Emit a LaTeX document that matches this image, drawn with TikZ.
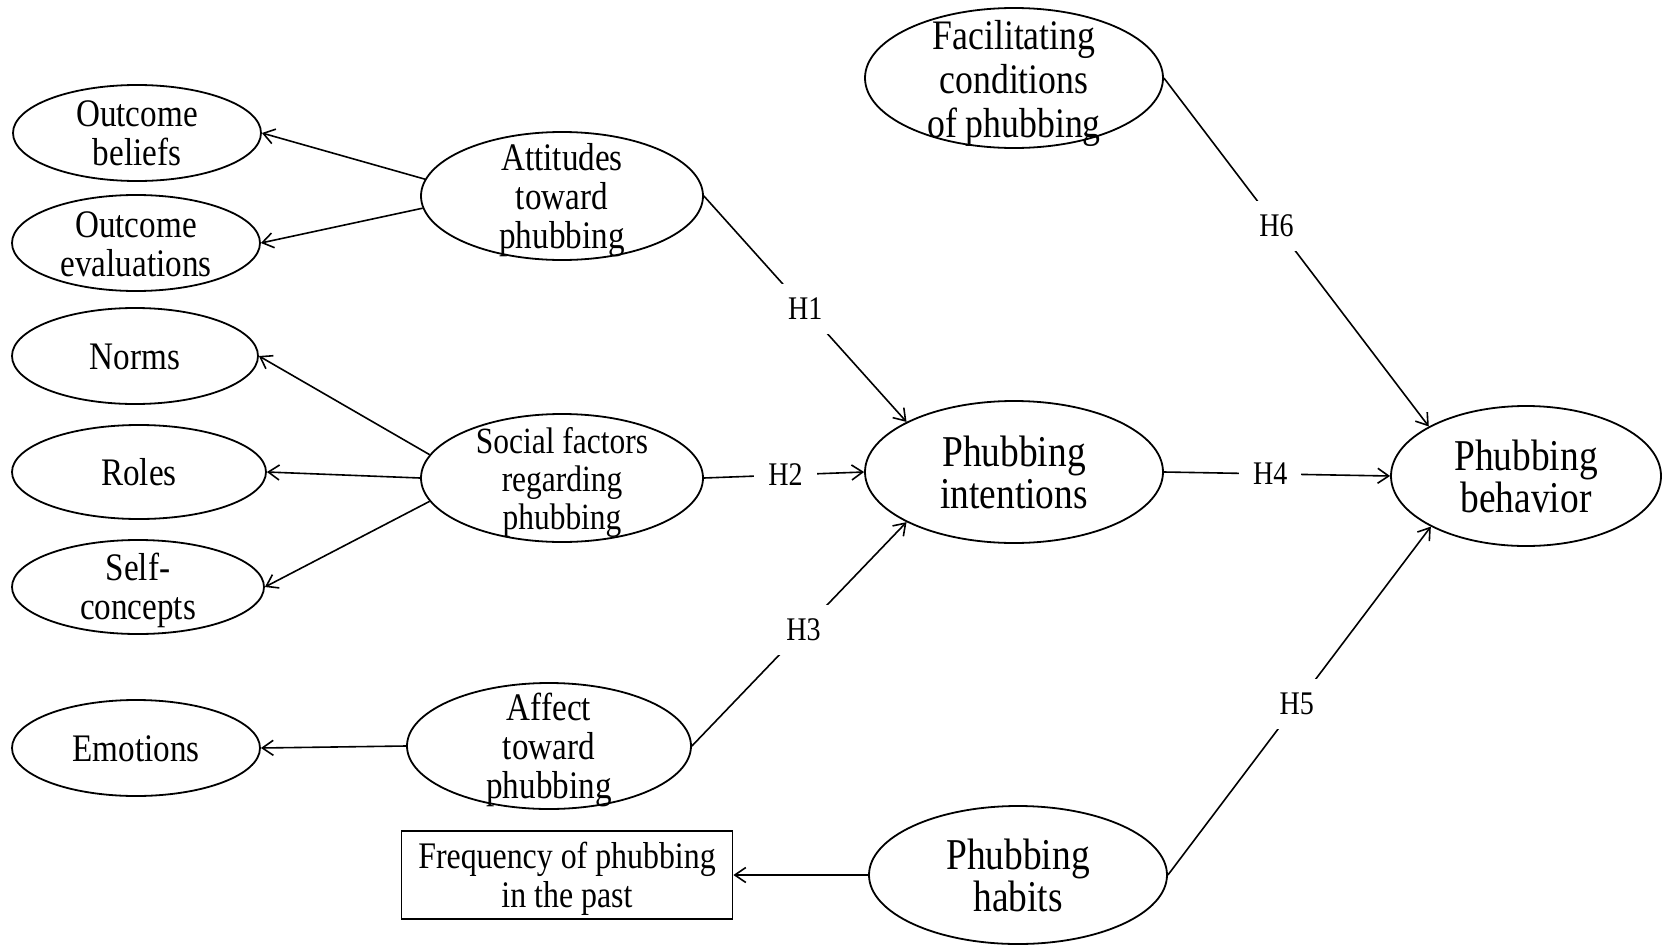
\documentclass[tikz,border=0pt]{standalone}
\usepackage{fontspec}
\setmainfont{Liberation Serif}[FakeStretch=0.85]
\usetikzlibrary{shapes.geometric,arrows.meta}

\begin{document}
\begin{tikzpicture}[x=1pt,y=-1pt,
  oval/.style args={#1/#2}{ellipse, draw, line width=1.8pt,
    minimum width=#1, minimum height=#2, inner sep=0pt},
  txt/.style={align=center, inner sep=0pt, font=\fontsize{39}{39}\selectfont},
  mid/.style={align=center, inner sep=0pt, font=\fontsize{37}{38}\selectfont},
  big/.style={align=center, inner sep=0pt, font=\fontsize{44}{42}\selectfont},
  fac/.style={align=center, inner sep=0pt, font=\fontsize{42}{44}\selectfont},
  box/.style={draw, line width=1.8pt, minimum width=331pt, minimum height=88pt,
    inner sep=0pt, align=center},
  boxtxt/.style={align=center, inner sep=0pt, font=\fontsize{37.5}{39}\selectfont},
  hyp/.style={fill=white, inner xsep=14pt, inner ysep=14pt,
    font=\fontsize{33}{33}\selectfont},
  link/.style={line width=1.6pt, -{Straight Barb[length=11pt,width=15pt]}}
]
\useasboundingbox (0,0) rectangle (1663,945);

% indicator ellipses
\node[oval=248pt/96pt] (ob) at (137,133) {};
\node[txt] (obt) at (ob) {Outcome\\beliefs};
\node[oval=248pt/96pt] (oe) at (136,243) {};
\node[txt, yshift=-1.5pt] (oet) at (oe) {Outcome\\evaluations};
\node[oval=246pt/96pt] (nor) at (135,356) {};
\node[txt, yshift=-1pt] (nort) at (nor) {Norms};
\node[oval=254pt/94pt] (rol) at (139,472) {};
\node[txt] (rolt) at (rol) {Roles};
\node[oval=252pt/94pt] (slf) at (138,587) {};
\node[txt, yshift=-3.5pt] (slft) at (slf) {Self-\\concepts};
\node[oval=248pt/96pt] (emo) at (136,748) {};
\node[txt, yshift=-1pt] (emot) at (emo) {Emotions};

% determinants
\node[oval=282pt/128pt] (att) at (562,196) {};
\node[txt, yshift=-4pt] (attt) at (att) {Attitudes\\toward\\phubbing};
\node[oval=282pt/128pt] (soc) at (562,478) {};
\node[mid, yshift=-4pt] (soct) at (soc) {Social factors\\regarding\\phubbing};
\node[oval=284pt/126pt] (aff) at (549,746) {};
\node[txt, yshift=-4pt] (afft) at (aff) {Affect\\toward\\phubbing};
\node[box] (frq) at (567,875) {};
\node[boxtxt, yshift=-4pt] (frqt) at (frq) {Frequency of phubbing\\in the past};

% central constructs
\node[oval=298pt/140pt] (fc) at (1014,78) {};
\node[fac, yshift=-5pt] (fct) at (fc) {Facilitating\\conditions\\of phubbing};
\node[oval=298pt/142pt] (int) at (1014,472) {};
\node[big] (intt) at (int) {Phubbing\\intentions};
\node[oval=298pt/138pt] (hab) at (1018,875) {};
\node[big] (habt) at (hab) {Phubbing\\habits};
\node[oval=270pt/140pt] (beh) at (1526,476) {};
\node[big] (beht) at (beh) {Phubbing\\behavior};

% measurement arrows
\draw[link] (att.173) -- (ob.east);
\draw[link] (att.185) -- (oe.east);
\draw[link] (soc.170) -- (nor.east);
\draw[link] (soc.west) -- (rol.east);
\draw[link] (soc.190) -- (slf.east);
\draw[link] (aff.west) -- (emo.east);
\draw[link] (hab.west) -- (frq.east);

% hypothesised paths
\draw[link] (att.east) -- node[hyp] (h1) {H1} (int.155);
\draw[link] (soc.east) -- node[hyp, pos=0.51] (h2) {H2} (int.west);
\draw[link] (aff.east) -- node[hyp, pos=0.52] (h3) {H3} (int.205);
\draw[link] (int.east) -- node[hyp, pos=0.47] (h4) {H4} (beh.west);
\draw[link] (hab.east) -- node[hyp, pos=0.49] (h5) {H5} (beh.208);
\draw[link] (fc.east) -- node[hyp, pos=0.425] (h6) {H6} (beh.153);
\end{tikzpicture}
\end{document}
